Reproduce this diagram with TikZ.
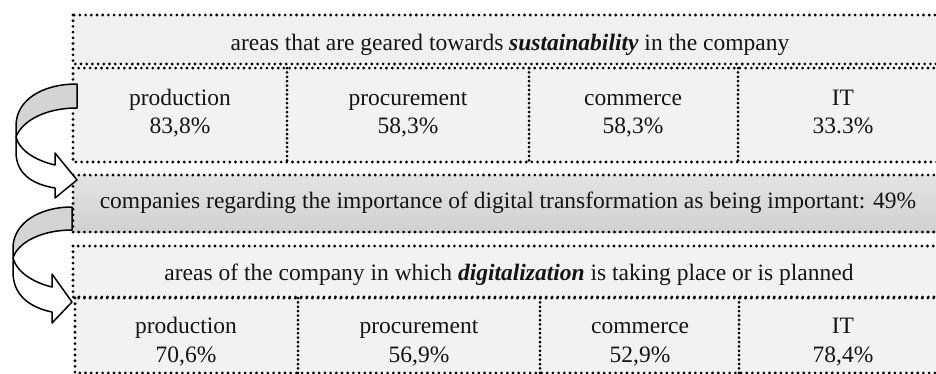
\documentclass[tikz,border=0pt]{standalone}
\usepackage{fontspec}
\setmainfont{Liberation Serif}
\begin{document}
\begin{tikzpicture}[x=1pt,y=-1pt,
  dotline/.style={line width=3.1pt, line cap=round, dash pattern=on 0pt off 5.7pt},
  divline/.style={line width=3pt, line cap=round, dash pattern=on 0pt off 4.4pt},
  panel/.style={rectangle, anchor=north west, inner sep=0pt, outer sep=0pt, fill=#1},
  label/.style={anchor=base, inner sep=0pt, font=\fontsize{23.5}{28}\selectfont, text=black!92},
  ribbon/.style={draw=black, line width=1.5pt, line join=round},
]
\useasboundingbox (0,0) rectangle (936,373);
\fill[white] (0,0) rectangle (936,373);
\clip (0,0) rectangle (936,373);

% panels
\node[panel=black!6, minimum width=875pt, minimum height=49pt] (h1) at (73,15) {};
\node[panel=black!5, minimum width=875pt, minimum height=94pt] (r1) at (73,68) {};
\shade[top color=black!11, bottom color=black!18] (73,175) rectangle (948,232);
\node[panel=none, minimum width=875pt, minimum height=57pt] (m) at (73,175) {};
\node[panel=black!5, minimum width=875pt, minimum height=51pt] (h2) at (73,246) {};
\node[panel=black!5, minimum width=873pt, minimum height=75pt] (r2) at (75,298) {};

% dotted frames
\foreach \b in {h1,r1,m,h2,r2}
  \draw[dotline] (\b.north west) rectangle (\b.south east);

% column separators
\coordinate (a1) at (287,0);
\coordinate (a2) at (529,0);
\coordinate (a3) at (738,0);
\coordinate (b1) at (298,0);
\coordinate (b2) at (540,0);
\coordinate (b3) at (739,0);
\foreach \c in {a1,a2,a3}
  \draw[divline] (\c |- r1.north) -- (\c |- r1.south);
\foreach \c in {b1,b2,b3}
  \draw[divline] (\c |- r2.north) -- (\c |- r2.south);

% texts
\node[label] (t1) at (510,50) {areas that are geared towards \textbf{\textit{sustainability}} in the company};
\node[label] (p1) at (180,105) {production};
\node[label] (p1v) at (180,133) {83,8\%};
\node[label] (q1) at (408,105) {procurement};
\node[label] (q1v) at (408,133) {58,3\%};
\node[label] (c1) at (633,105) {commerce};
\node[label] (c1v) at (633,133) {58,3\%};
\node[label] (i1) at (843,105) {IT};
\node[label] (i1v) at (843,133) {33.3\%};

\node[label] (tm) at (508,208) {companies regarding the importance of digital transformation as being important: 49\%};

\node[label] (t2) at (509,280) {areas of the company in which \textbf{\textit{digitalization}} is taking place or is planned};
\node[label] (p2) at (186,333) {production};
\node[label] (p2v) at (186,362) {70,6\%};
\node[label] (q2) at (419,333) {procurement};
\node[label] (q2v) at (419,362) {56,9\%};
\node[label] (c2) at (640,333) {commerce};
\node[label] (c2v) at (640,362) {52,9\%};
\node[label] (i2) at (843,333) {IT};
\node[label] (i2v) at (843,362) {78,4\%};

% curved arrow from the sustainability row down to the middle bar
\path[ribbon, fill=black!17] (77,84) .. controls (42,84) and (16,100) .. (16,126)
  -- (16,137) .. controls (22,121) and (45,108) .. (77,108) -- cycle;
\path[ribbon, fill=white] (16,137) .. controls (20,152) and (38,161) .. (55,165)
  -- (55,153) -- (77,180) -- (55,198) -- (55,188)
  .. controls (30,184) and (16,172) .. (16,152) -- cycle;

% curved arrow from the middle bar down to the digitalization block
\path[ribbon, fill=black!17] (72,207) .. controls (38,207) and (13,224) .. (13,248)
  -- (13,258) .. controls (18,242) and (42,230) .. (72,230) -- cycle;
\path[ribbon, fill=white] (13,258) .. controls (17,273) and (35,283) .. (52,287)
  -- (52,274) -- (72,302) -- (52,323) -- (52,312)
  .. controls (28,307) and (13,294) .. (13,272) -- cycle;
\end{tikzpicture}
\end{document}
